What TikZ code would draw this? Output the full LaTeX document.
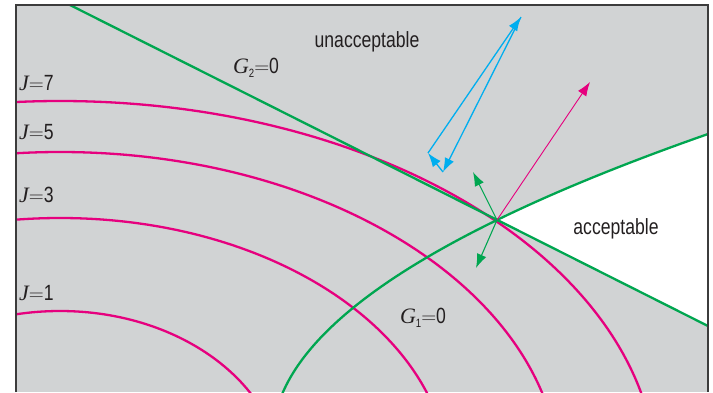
\documentclass[tikz,border=0pt]{standalone}
\usepackage{fontspec}
\setmainfont{Liberation Sans}[FakeStretch=0.8]
\newfontfamily\jfont{Liberation Serif}
\usetikzlibrary{arrows.meta}
\definecolor{panelgray}{HTML}{D1D3D4}
\definecolor{jpink}{HTML}{E6007E}
\definecolor{ggreen}{HTML}{00A650}
\definecolor{vblue}{HTML}{00AEEF}
\definecolor{framegray}{HTML}{3C3C3C}
\definecolor{textgray}{HTML}{231F20}
\tikzset{
  jcurve/.style={jpink, line width=2.3pt},
  gcurve/.style={ggreen, line width=2.3pt},
  vec/.style={-{Latex[length=14pt,width=10pt]}},
  lbl/.style={font=\fontsize{22}{25}\selectfont, text=textgray, inner sep=0pt},
}
\newcommand{\vname}[1]{{\jfont\itshape #1}}
\newcommand{\lowsub}[1]{\raisebox{-0.35ex}{\fontsize{12}{12}\selectfont #1}}

\begin{document}
\begin{tikzpicture}[x=1pt,y=-1pt]
\useasboundingbox (0,0) rectangle (713,392);
% the panel
\fill[panelgray] (16,5) rectangle (708,392);
\coordinate (O) at (497,220);
\coordinate (G2top) at (70,5);
\coordinate (G2end) at (708,326);
% acceptable region
\fill[white] (O) -- (G2end) -- (708,134)
  -- plot[domain=134:220, variable=\t] ({272.8+(0.06847*(438.7-\t))^2},{\t}) -- cycle;

\begin{scope}
  \clip (16,5) rectangle (708,392);
  % contours of J
  \foreach \a/\b in {222/169, 389/262, 500/328, 597/379}
    \draw[jcurve] (60,480) ellipse[x radius=\a pt, y radius=\b pt];
  % constraints
  \draw[gcurve] (G2top) -- (G2end);
  \draw[gcurve] plot[domain=400:120, variable=\t, samples=60] ({272.8+(0.06847*(438.7-\t))^2},{\t});
\end{scope}

% gradients at the corner
\coordinate (Jgrad) at (590,82);
\coordinate (G1grad) at (473,172);
\coordinate (G2grad) at (476,268);
\draw[vec, jpink, line width=0.9pt] (O) -- (Jgrad);
\draw[vec, ggreen, line width=1.1pt] (O) -- (G1grad);
\draw[vec, ggreen, line width=1.1pt] (O) -- (G2grad);

% the blue vectors
\coordinate (S) at (443,172);
\coordinate (P) at (428,153);
\coordinate (T) at (521,17);
\draw[vec, vblue, line width=1.3pt] (S) -- (P);
\draw[vec, vblue, line width=1.3pt] (P) -- (T);
\draw[vec, vblue, line width=1.3pt] (T) -- (S);

% labels
\node[lbl, anchor=west] (J7) at (19,83) {\vname{J}$=$7};
\node[lbl, anchor=west] (J5) at (19,132) {\vname{J}$=$5};
\node[lbl, anchor=west] (J3) at (19,195) {\vname{J}$=$3};
\node[lbl, anchor=west] (J1) at (19,293) {\vname{J}$=$1};
\node[lbl] (G2lbl) at (256,68) {\vname{G}\lowsub{2}$=$0};
\node[lbl] (G1lbl) at (423,318) {\vname{G}\lowsub{1}$=$0};
\node[lbl] (unacc) at (367,42) {unacceptable};
\node[lbl] (acc) at (616,229) {acceptable};

% frame
\draw[framegray, line width=1.6pt] (16,392) -- (16,5) -- (708,5) -- (708,392);
\end{tikzpicture}
\end{document}
